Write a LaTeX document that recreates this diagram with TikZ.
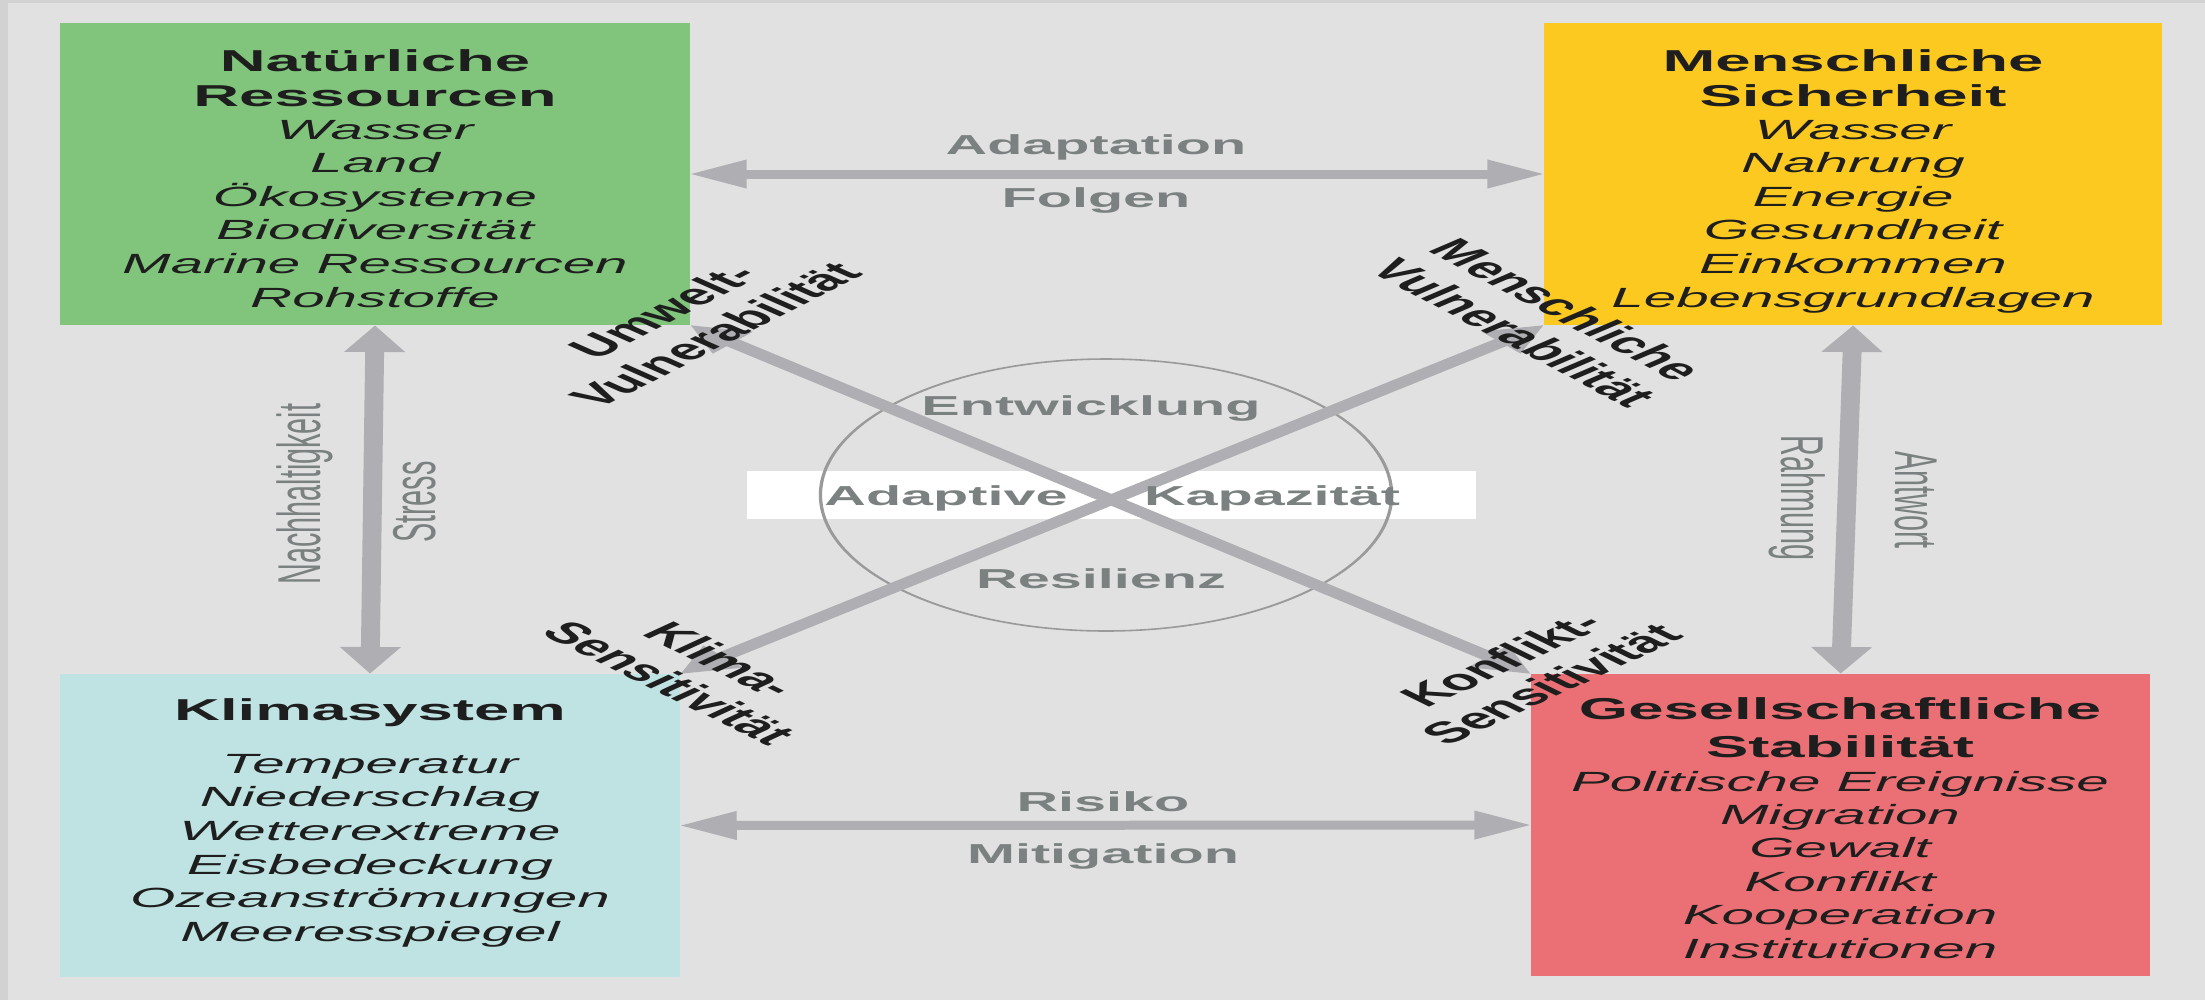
\documentclass[tikz,border=0pt]{standalone}
\usepackage{fontspec}
\setmainfont{Liberation Sans}
\newfontfamily\widefont{Liberation Sans}[FakeStretch=2.1]
\newfontfamily\narrowfont{Liberation Sans}[FakeStretch=0.47619]
\usetikzlibrary{arrows.meta,fit}
\definecolor{bgc}{HTML}{E1E1E1}
\definecolor{stripc}{HTML}{D2D2D2}
\definecolor{natc}{HTML}{81C57D}
\definecolor{secc}{HTML}{FBC91F}
\definecolor{klic}{HTML}{BFE3E2}
\definecolor{gesc}{HTML}{EB7075}
\definecolor{arrc}{HTML}{AFAEB3}
\definecolor{lblc}{HTML}{7B8180}
\definecolor{circc}{HTML}{9A9A9A}
\definecolor{txtc}{HTML}{1E1E1E}
\tikzset{tipA/.tip={Triangle[length=2.7mm,width=2.7mm]},
  box/.style={inner sep=0pt, outer sep=0pt},
  ttl/.style={anchor=base, text=txtc, inner sep=0pt, font=\widefont\fontsize{8.6}{10.3}\selectfont\bfseries},
  itm/.style={anchor=base, text=txtc, inner sep=0pt, font=\widefont\fontsize{7.9}{9.5}\selectfont\itshape},
  glbl/.style={anchor=base, text=lblc, inner sep=0pt, font=\widefont\fontsize{7.8}{9.4}\selectfont\bfseries},
  vlbl/.style={text=lblc, inner sep=0pt, font=\narrowfont\fontsize{17.2}{20}\selectfont},
  dlbl/.style={text=txtc, inner sep=0pt, align=center, font=\fontsize{8.4}{9.7}\selectfont\bfseries},
  arr/.style={draw=arrc, line width=2.56pt, arrows={tipA-tipA}}}
\begin{document}
\begin{tikzpicture}[x=0.1mm, y=-0.1mm]
\useasboundingbox (0,0) rectangle (2205,1000);
\fill[stripc] (0,0) rectangle (2205,1000);
\fill[bgc] (8,3) rectangle (2205,1000);
\begin{scope}[transform canvas={xscale=2.1}, x=0.047619mm]
% boxes
\node[box, fill=natc, fit={(60,23) (690,325)}] (nat) {};
\node[box, fill=secc, fit={(1544,23) (2162,325)}] (sec) {};
\node[box, fill=klic, fit={(60,674) (680,977)}] (kli) {};
\node[box, fill=gesc, fit={(1531,674) (2150,976)}] (ges) {};
% centre
\node[box, fill=white, fit={(747,471) (1476,519)}] (band) {};
\node[draw=circc, line width=0.45pt, circle, minimum size=27.2mm, inner sep=0pt] (circ) at (1106,495) {};
% connectors
\draw[arr] (nat.east) -- (sec.west);
\draw[arr] (kli.east) -- (ges.west);
\draw[arr] (nat.south) -- (kli.north);
\draw[arr] (sec.south) -- (ges.north);
\draw[arr] (nat.south east) -- (ges.north west);
\draw[arr] (kli.north east) -- (sec.south west);
% diagonal labels
\node[dlbl, rotate=47] (umw) at (689,323) {Umwelt-\\Vulnerabilität};
\node[dlbl, rotate=-48] (mensch) at (1541,321) {Menschliche\\Vulnerabilität};
\node[dlbl, rotate=-46] (klima) at (696,671) {Klima-\\Sensitivität};
\node[dlbl, rotate=44] (konfl) at (1526,672) {Konflikt-\\Sensitivität};
\end{scope}
% box texts
\node[ttl] (nat-t1) at (375,71) {Natürliche};
\node[ttl] (nat-t2) at (375,106) {Ressourcen};
\foreach \t [count=\i from 0] in {Wasser,Land,Ökosysteme,Biodiversität,Marine Ressourcen,Rohstoffe}
  \node[itm] (nat-\i) at (375,{139+33.6*\i}) {\t};
\node[ttl] (sec-t1) at (1853,71) {Menschliche};
\node[ttl] (sec-t2) at (1853,106) {Sicherheit};
\foreach \t [count=\i from 0] in {Wasser,Nahrung,Energie,Gesundheit,Einkommen,Lebensgrundlagen}
  \node[itm] (sec-\i) at (1853,{139+33.6*\i}) {\t};
\node[ttl] (kli-t1) at (370,720) {Klimasystem};
\foreach \t [count=\i from 0] in {Temperatur,Niederschlag,Wetterextreme,Eisbedeckung,Ozeanströmungen,Meeresspiegel}
  \node[itm] (kli-\i) at (370,{773+33.7*\i}) {\t};
\node[ttl] (ges-t1) at (1840,719) {Gesellschaftliche};
\node[ttl] (ges-t2) at (1840,757) {Stabilität};
\foreach \t [count=\i from 0] in {Politische Ereignisse,Migration,Gewalt,Konflikt,Kooperation,Institutionen}
  \node[itm] (ges-\i) at (1840,{791+33.4*\i}) {\t};
% connector labels
\node[glbl] (adapt) at (1096,154) {Adaptation};
\node[glbl] (folgen) at (1096,207) {Folgen};
\node[glbl] (risiko) at (1103,811) {Risiko};
\node[glbl] (mitig) at (1103,863) {Mitigation};
\node[glbl] (entw) at (1091,415) {Entwicklung};
\node[glbl] (adaptive) at (946,505) {Adaptive};
\node[glbl] (kapaz) at (1272,505) {Kapazität};
\node[glbl] (resil) at (1101,588) {Resilienz};
\node[vlbl, rotate=90] (nachh) at (305,494) {Nachhaltigkeit};
\node[vlbl, rotate=90] (stress) at (415,502) {Stress};
\node[vlbl, rotate=-90] (rahm) at (1797,498) {Rahmung};
\node[vlbl, rotate=-90] (antw) at (1916,500) {Antwort};
\end{tikzpicture}
\end{document}
